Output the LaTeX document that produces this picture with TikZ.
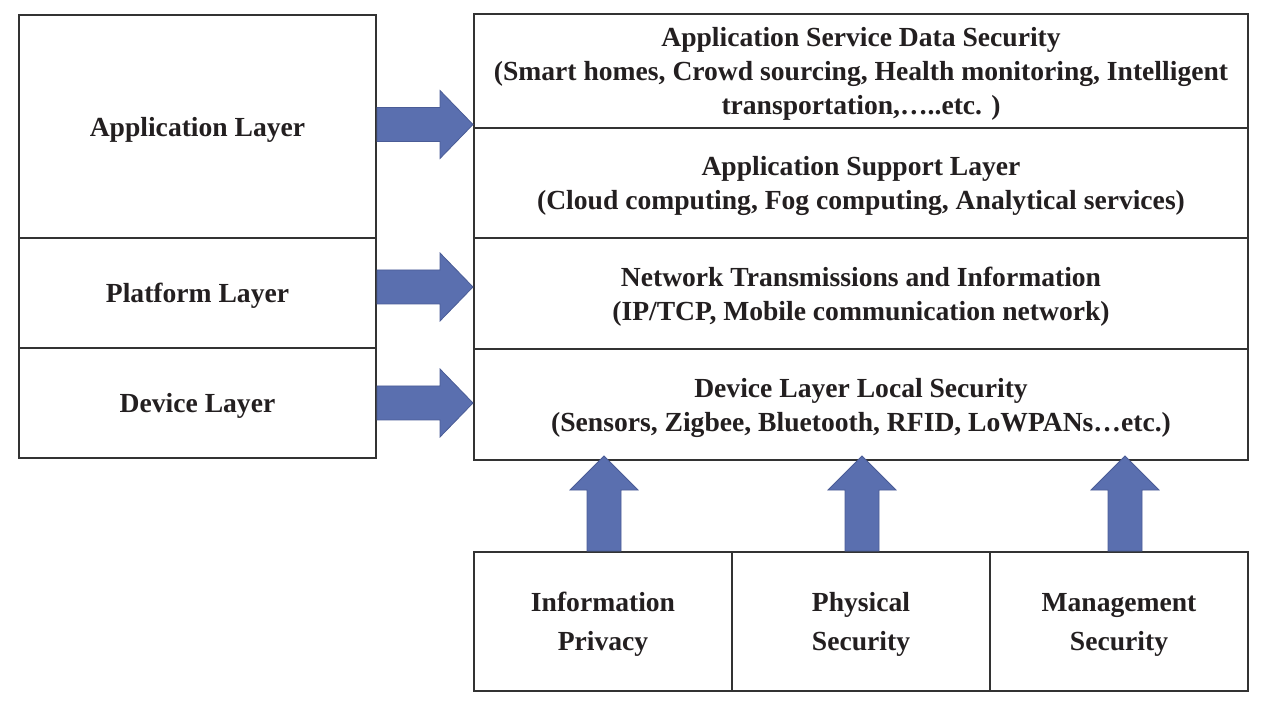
\documentclass[tikz,border=0pt]{standalone}
\usepackage{fontspec}
\setmainfont{Liberation Serif}
\usepackage{xcolor}
\usepackage{tikz}
\usetikzlibrary{calc}
\definecolor{ink}{HTML}{231F20}
\definecolor{frame}{HTML}{333333}
\definecolor{arrowfill}{HTML}{5A6FAF}
\definecolor{arrowline}{HTML}{4A5C96}
\tikzset{
  box/.style={draw=frame, line width=1pt, inner sep=0pt, align=center, text=ink,
    text depth=0pt, font=\bfseries\fontsize{13.8}{17}\selectfont},
  lbox/.style={box, minimum width=178.5pt},
  rbox/.style={box, minimum width=387pt},
  bbox/.style={box, minimum width=129pt, minimum height=69.5pt,
    font=\bfseries\fontsize{13.8}{19.5}\selectfont},
  blk/.style={fill=arrowfill, draw=arrowline, line width=0.4pt, line join=miter},
}
% fat arrow pointing right, from #1 to tip #2
\newcommand{\fatright}[2]{%
  \draw[blk] ($(#1)+(0,-17)$) -- ($(#2)+(-33,-17)$) -- ($(#2)+(-33,-34)$) -- (#2)
    -- ($(#2)+(-33,34)$) -- ($(#2)+(-33,17)$) -- ($(#1)+(0,17)$) -- cycle;}
% fat arrow pointing up, from #1 to tip #2
\newcommand{\fatup}[2]{%
  \draw[blk] ($(#1)+(-17,0)$) -- ($(#2)+(-17,34)$) -- ($(#2)+(-34,34)$) -- (#2)
    -- ($(#2)+(34,34)$) -- ($(#2)+(17,34)$) -- ($(#1)+(17,0)$) -- cycle;}

\begin{document}
\begin{tikzpicture}[x=0.5pt,y=-0.5pt]
  \useasboundingbox (0,0) rectangle (1272,710);

  % left column
  \node[lbox, minimum height=111.5pt] (app)  at (197.5,126.5) {Application Layer};
  \node[lbox, minimum height=55pt]    (plat) at (197.5,293)   {Platform Layer};
  \node[lbox, minimum height=55pt]    (dev)  at (197.5,403)   {Device Layer};

  % right column
  \node[rbox, minimum height=57pt]   (svc) at (861,71)
    {Application Service Data Security\\
     (Smart homes, Crowd sourcing, Health monitoring, Intelligent\\
     transportation,\dots..etc. )};
  \node[rbox, minimum height=55pt]   (sup) at (861,183)
    {Application Support Layer\\
     (Cloud computing, Fog computing, Analytical services)};
  \node[rbox, minimum height=55.5pt] (net) at (861,293.5)
    {Network Transmissions and Information\\
     (IP/TCP, Mobile communication network)};
  \node[rbox, minimum height=55.5pt] (loc) at (861,404.5)
    {Device Layer Local Security\\
     (Sensors, Zigbee, Bluetooth, RFID, LoWPANs\dots etc.)};

  % bottom row
  \node[bbox] (priv) at (603,621.5)  {Information\\Privacy};
  \node[bbox] (phys) at (861,621.5)  {Physical\\Security};
  \node[bbox] (mgmt) at (1119,621.5) {Management\\Security};

  % arrows
  \fatright{$(app.east)+(0,-2)$}{$(app.east -| svc.west)+(0,-2)$}
  \fatright{$(plat.east)+(0,-6)$}{$(plat.east -| net.west)+(0,-6)$}
  \fatright{dev.east}{dev.east -| loc.west}

  \fatup{$(priv.north)+(1,0)$}{$(priv.north |- loc.south)+(1,-5)$}
  \fatup{$(phys.north)+(1,0)$}{$(phys.north |- loc.south)+(1,-5)$}
  \fatup{$(mgmt.north)+(6,0)$}{$(mgmt.north |- loc.south)+(6,-5)$}
\end{tikzpicture}
\end{document}
